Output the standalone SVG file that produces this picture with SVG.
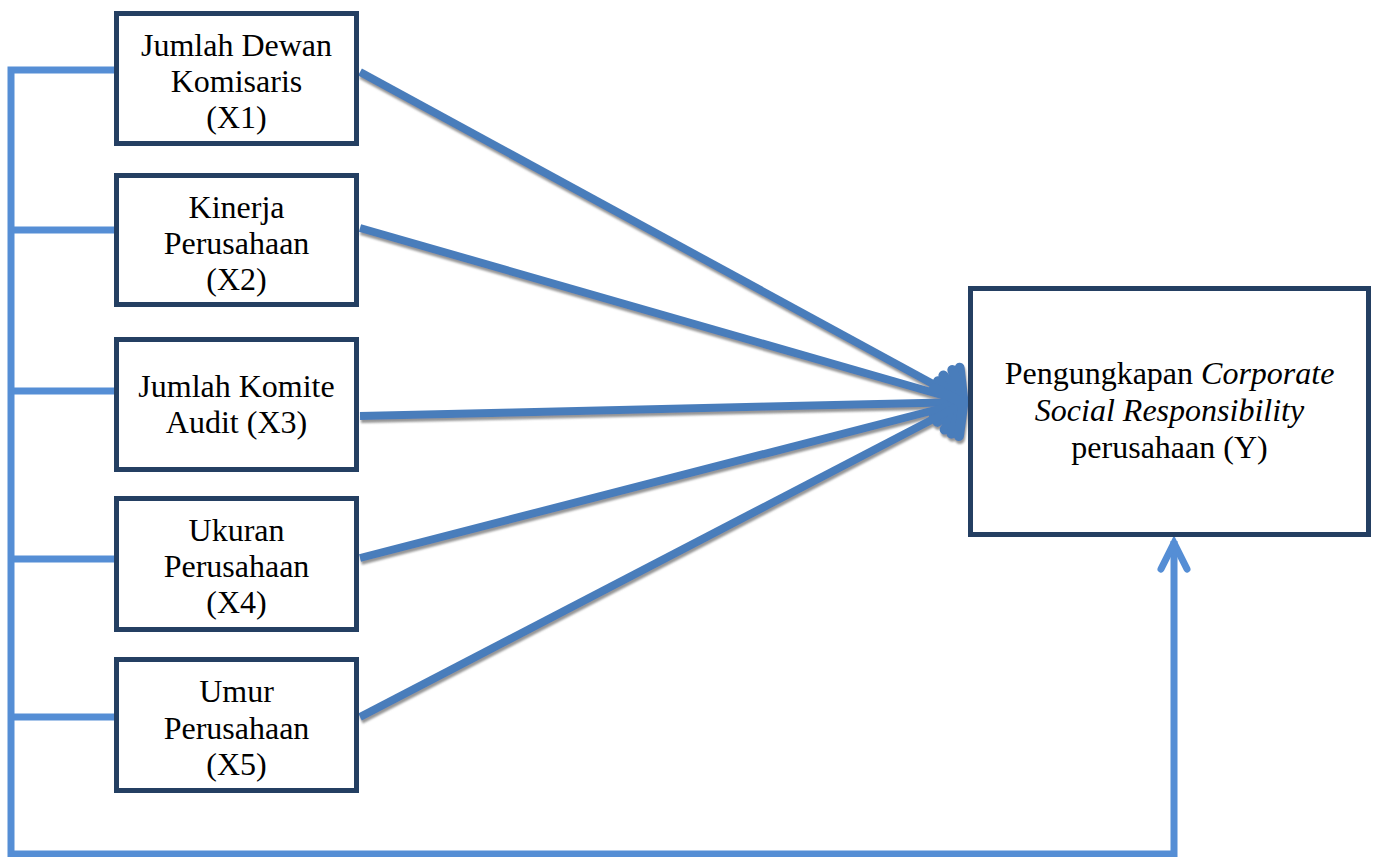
<svg xmlns="http://www.w3.org/2000/svg" width="1373" height="857" viewBox="0 0 1373 857">
<style>
.box{fill:#fff;stroke:#243f62;stroke-width:5}
.t{font-family:"Liberation Serif","Times New Roman",serif;font-size:32px;fill:#000;text-anchor:middle}
.i{font-style:italic}
.side{fill:none;stroke:#558ed5;stroke-width:7;stroke-linejoin:miter}
.main{fill:none;stroke:#4a7dbb;stroke-width:8;stroke-linecap:butt}
</style>
<defs>
<filter id="sh" x="-10%" y="-10%" width="120%" height="130%">
<feDropShadow dx="1" dy="3" stdDeviation="1" flood-color="#8a8a8a" flood-opacity="0.9"/>
</filter>
<marker id="ah" markerUnits="userSpaceOnUse" viewBox="-40 -40 60 80" refX="0" refY="0" markerWidth="60" markerHeight="80" orient="auto" overflow="visible">
<path d="M-22,-27 L-3,0 L-22,27" fill="none" stroke="#4a7dbb" stroke-width="10" stroke-linecap="round" stroke-linejoin="miter"/>
</marker>
<marker id="ah2" markerUnits="userSpaceOnUse" viewBox="-40 -40 60 80" refX="0" refY="0" markerWidth="60" markerHeight="80" orient="auto" overflow="visible">
<path d="M-28,-13 L-2,0 L-28,13" fill="none" stroke="#558ed5" stroke-width="7" stroke-linecap="round" stroke-linejoin="miter"/>
</marker>
</defs>
<rect width="1373" height="857" fill="#fff"/>
<g id="connectors">
<path class="side" d="M114,70 H11 V854 H1174 V541" marker-end="url(#ah2)"/>
<path class="side" d="M11,230 H114 M11,391 H114 M11,559 H114 M11,717 H114"/>
<g filter="url(#sh)">
<line class="main" x1="360" y1="72" x2="966" y2="402" marker-end="url(#ah)"/>
<line class="main" x1="360" y1="228" x2="966" y2="402" marker-end="url(#ah)"/>
<line class="main" x1="360" y1="416" x2="966" y2="402" marker-end="url(#ah)"/>
<line class="main" x1="360" y1="558" x2="966" y2="402" marker-end="url(#ah)"/>
<line class="main" x1="360" y1="717" x2="966" y2="402" marker-end="url(#ah)"/>
</g>
</g>
<g id="x1">
<rect class="box" x="116.5" y="13.5" width="240" height="130"/>
<text class="t" x="236.5" y="56">Jumlah Dewan</text>
<text class="t" x="236.5" y="92">Komisaris</text>
<text class="t" x="236.5" y="128">(X1)</text>
</g>
<g id="x2">
<rect class="box" x="116.5" y="175.5" width="240" height="129"/>
<text class="t" x="236.5" y="218">Kinerja</text>
<text class="t" x="236.5" y="254">Perusahaan</text>
<text class="t" x="236.5" y="290">(X2)</text>
</g>
<g id="x3">
<rect class="box" x="116.5" y="339.5" width="240" height="130"/>
<text class="t" x="236.5" y="397">Jumlah Komite</text>
<text class="t" x="236.5" y="433">Audit (X3)</text>
</g>
<g id="x4">
<rect class="box" x="116.5" y="498.5" width="240" height="131"/>
<text class="t" x="236.5" y="541">Ukuran</text>
<text class="t" x="236.5" y="577">Perusahaan</text>
<text class="t" x="236.5" y="613">(X4)</text>
</g>
<g id="x5">
<rect class="box" x="116.5" y="659.5" width="240" height="131"/>
<text class="t" x="236.5" y="702">Umur</text>
<text class="t" x="236.5" y="739">Perusahaan</text>
<text class="t" x="236.5" y="775">(X5)</text>
</g>
<g id="y">
<rect class="box" x="970.5" y="288.5" width="398" height="246"/>
<text class="t" x="1169.5" y="384">Pengungkapan <tspan class="i">Corporate</tspan></text>
<text class="t i" x="1169.5" y="421">Social Responsibility</text>
<text class="t" x="1169.5" y="458">perusahaan (Y)</text>
</g>
</svg>
